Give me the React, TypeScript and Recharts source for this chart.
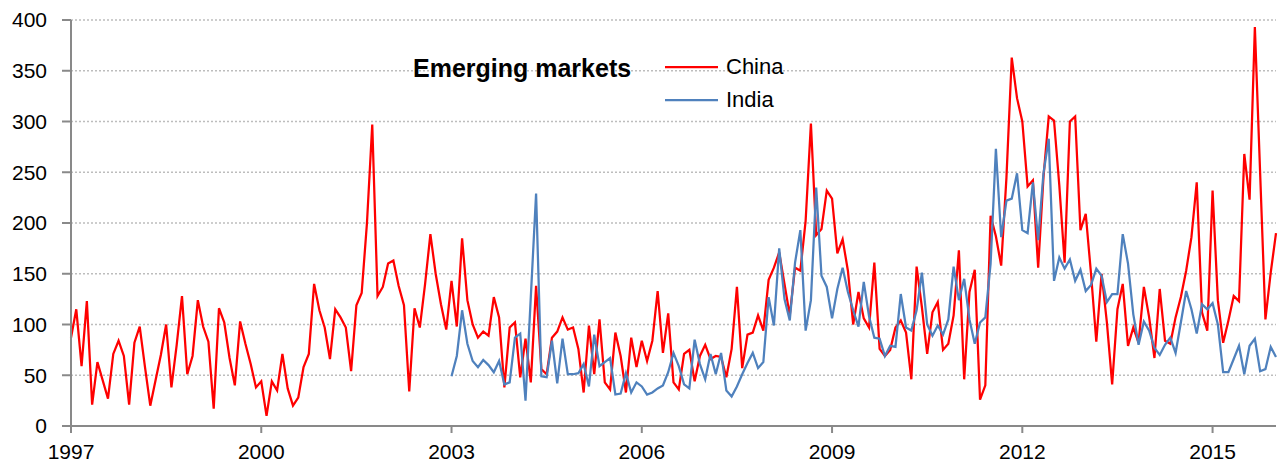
import React from 'react';
import { LineChart, Line, XAxis, YAxis, CartesianGrid } from 'recharts';

const startYear = 1997;
const tickYears = [1997, 2000, 2003, 2006, 2009, 2012, 2015];
const yTicks = [0, 50, 100, 150, 200, 250, 300, 350, 400];
const indiaStartIndex = 72; // January 2003

// Monthly values, January 1997 – January 2016
const china = [
  87, 115, 59, 123, 21, 63, 45, 27, 71, 84, 69, 21,
  82, 98, 58, 20, 45, 70, 100, 38, 80, 128, 51, 69,
  124, 98, 83, 17, 116, 102, 67, 40, 103, 81, 61, 38,
  44, 10, 44, 35, 71, 37, 20, 28, 58, 71, 140, 114,
  97, 66, 115, 107, 97, 54, 119, 131, 200, 297, 128, 137,
  160, 163, 138, 119, 34, 116, 97, 140, 189, 150, 120, 95,
  143, 98, 185, 124, 100, 87, 93, 89, 127, 107, 38, 97,
  102, 48, 86, 43, 138, 56, 51, 87, 93, 107, 95, 97,
  76, 33, 99, 51, 105, 43, 36, 92, 69, 33, 87, 58,
  84, 64, 84, 133, 72, 111, 43, 36, 71, 75, 44, 69,
  80, 66, 69, 68, 48, 76, 137, 57, 90, 92, 109, 94,
  144, 156, 171, 140, 109, 156, 153, 202, 298, 188, 194, 232,
  224, 170, 184, 153, 100, 132, 106, 97, 161, 76, 69, 75,
  97, 104, 92, 46, 157, 117, 71, 112, 122, 75, 81, 109,
  173, 46, 132, 154, 26, 40, 207, 187, 158, 245, 363, 323,
  300, 236, 242, 156, 245, 305, 301, 237, 161, 300, 305, 193,
  209, 150, 83, 150, 102, 41, 115, 140, 79, 97, 82, 137,
  107, 67, 135, 84, 81, 107, 127, 153, 186, 240, 112, 94,
  232, 124, 82, 104, 128, 123, 268, 223, 393, 249, 105, 151,
  190,
];

// Monthly values, January 2003 – January 2016
const india = [
  49, 69, 114, 81, 64, 58, 65, 60, 53, 64, 41, 43,
  87, 91, 25, 127, 229, 49, 48, 84, 42, 86, 51, 51,
  52, 61, 39, 90, 59, 63, 67, 31, 32, 52, 33, 43,
  39, 31, 33, 37, 40, 53, 72, 59, 41, 37, 85, 61,
  46, 71, 51, 72, 35, 29, 39, 51, 62, 72, 57, 63,
  127, 99, 175, 125, 104, 161, 193, 94, 124, 235, 148, 137,
  106, 135, 156, 132, 114, 98, 142, 108, 87, 86, 69, 79,
  78, 130, 97, 94, 114, 151, 100, 89, 99, 90, 105, 157,
  124, 145, 105, 81, 102, 107, 160, 273, 186, 222, 224, 249,
  193, 190, 240, 183, 249, 283, 143, 166, 155, 164, 143, 154,
  133, 139, 155, 148, 122, 130, 130, 189, 160, 110, 80, 103,
  94, 77, 70, 80, 87, 72, 102, 133, 115, 91, 120, 115,
  121, 100, 53, 53, 66, 79, 51, 79, 86, 54, 56, 78,
  68,
];

const months = china.map(
  (_, i) => `${startYear + Math.floor(i / 12)}-${String((i % 12) + 1).padStart(2, '0')}`
);

const data = months.map((m, i) => ({
  i,
  month: m,
  China: china[i],
  India: i >= indiaStartIndex ? india[i - indiaStartIndex] : null,
}));

const xTicks = tickYears.map((y) => (y - startYear) * 12);

const FONT = '"Liberation Sans", Arial, sans-serif';
const AXIS = '#898989';

export default function App() {
  return (
    <div style={{ position: 'absolute', left: 0, top: 0, width: 1281, height: 469, background: '#fff' }}>
      <LineChart width={1281} height={469} data={data} margin={{ top: 20, right: 5, left: 0, bottom: 0 }}>
        <CartesianGrid vertical={false} stroke="#bdbdbd" strokeWidth={1.5} strokeDasharray="2 2" />
        <XAxis
          dataKey="i"
          type="number"
          domain={[0, china.length - 1]}
          ticks={xTicks}
          tickFormatter={(v: number) => String(startYear + Math.round(v / 12))}
          height={43}
          tickSize={7}
          tickMargin={11}
          stroke={AXIS}
          strokeWidth={2}
          tick={{ fill: '#000', fontSize: 21, fontFamily: FONT }}
          interval={0}
        />
        <YAxis
          type="number"
          domain={[0, 400]}
          ticks={yTicks}
          width={71}
          tickSize={9}
          tickMargin={15}
          stroke={AXIS}
          strokeWidth={2}
          tick={{ fill: '#000', fontSize: 21, fontFamily: FONT }}
          interval={0}
        />
        <Line
          type="linear"
          dataKey="China"
          stroke="#ff0000"
          strokeWidth={2.25}
          dot={false}
          isAnimationActive={false}
        />
        <Line
          type="linear"
          dataKey="India"
          stroke="#4f81bd"
          strokeWidth={2.25}
          dot={false}
          isAnimationActive={false}
        />
      </LineChart>
      <div
        style={{
          position: 'absolute',
          left: 413,
          top: 56,
          fontFamily: FONT,
          fontWeight: 'bold',
          fontSize: 25,
          lineHeight: '25px',
          whiteSpace: 'nowrap',
          color: '#000',
        }}
      >
        Emerging markets
      </div>
      <svg style={{ position: 'absolute', left: 660, top: 55, overflow: 'visible' }} width={62} height={60}>
        <line x1={5} x2={58} y1={12} y2={12} stroke="#ff0000" strokeWidth={2.25} />
        <line x1={5} x2={58} y1={45} y2={45} stroke="#4f81bd" strokeWidth={2.25} />
      </svg>
      <div
        style={{
          position: 'absolute',
          left: 726,
          top: 56,
          fontFamily: FONT,
          fontSize: 22,
          lineHeight: '22px',
          whiteSpace: 'nowrap',
          color: '#000',
        }}
      >
        China
      </div>
      <div
        style={{
          position: 'absolute',
          left: 726,
          top: 89,
          fontFamily: FONT,
          fontSize: 22,
          lineHeight: '22px',
          whiteSpace: 'nowrap',
          color: '#000',
        }}
      >
        India
      </div>
    </div>
  );
}
